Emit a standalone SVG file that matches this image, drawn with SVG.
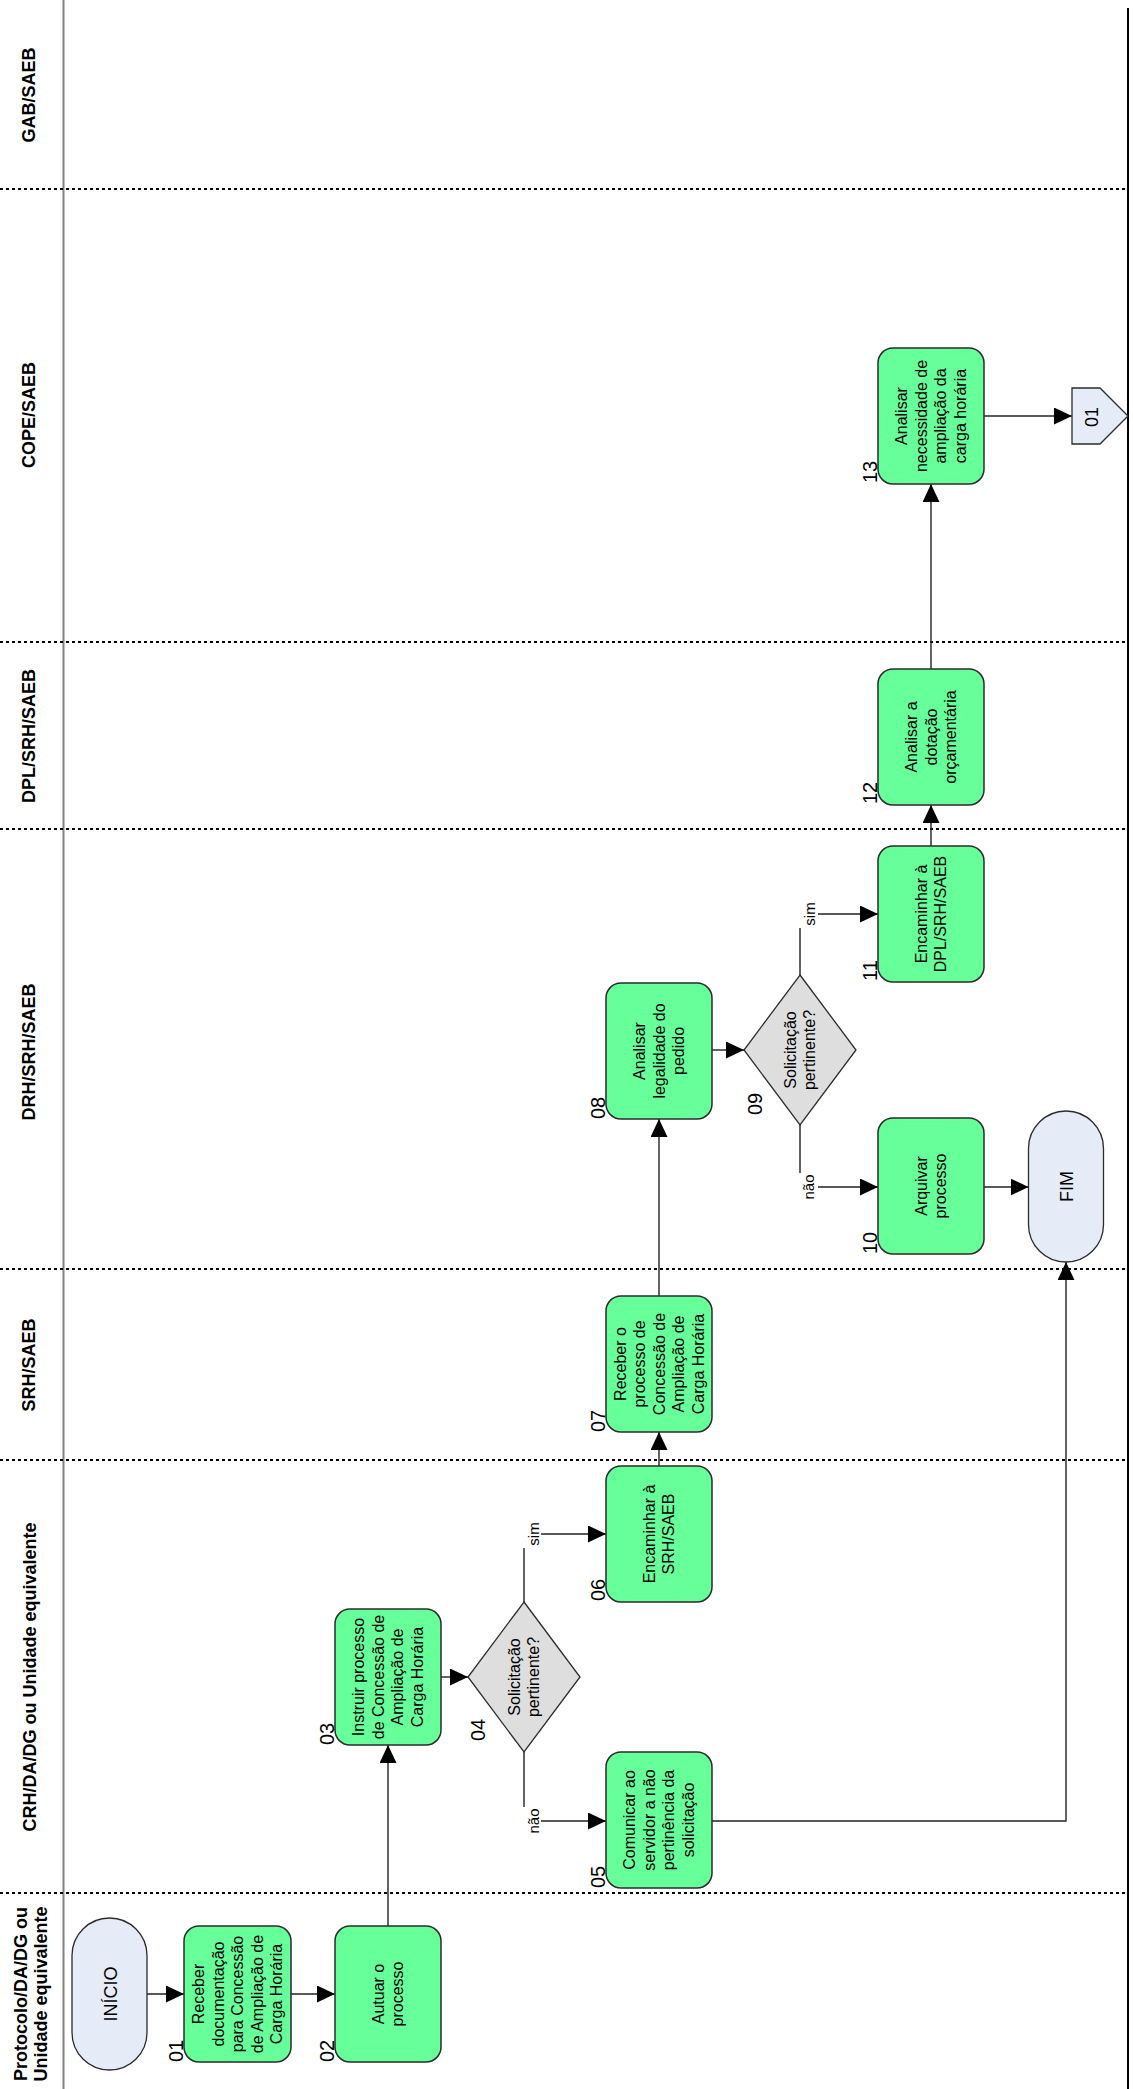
<svg xmlns="http://www.w3.org/2000/svg" width="1133" height="2089" viewBox="0 0 1133 2089">
  <style>
    .lane-sep { stroke: #000; stroke-width: 2; stroke-dasharray: 3 3; fill: none; }
    .task { fill: #66FF99; stroke: #2b2b2b; stroke-width: 1.5; }
    .gate { fill: #DEDEDE; stroke: #2b2b2b; stroke-width: 1.3; }
    .term { fill: #E6ECF7; stroke: #2b2b2b; stroke-width: 1.3; }
    .edge { fill: none; stroke: #222; stroke-width: 1.4; }
    .lbl { font-family: "Liberation Sans", Arial, sans-serif; font-size: 16px; fill: #000; text-anchor: middle; }
    .num { font-family: "Liberation Sans", Arial, sans-serif; font-size: 20px; fill: #000; }
    .lane { font-family: "Liberation Sans", Arial, sans-serif; font-size: 18px; font-weight: bold; fill: #000; text-anchor: middle; }
    .term-txt { font-family: "Liberation Sans", Arial, sans-serif; font-size: 18px; fill: #000; text-anchor: middle; }
    .cond { font-family: "Liberation Sans", Arial, sans-serif; font-size: 15px; fill: #000; text-anchor: middle; }
  </style>
  <defs>
    <marker id="arrow" viewBox="0 0 18 17" refX="18" refY="8.5" markerWidth="18" markerHeight="17" markerUnits="userSpaceOnUse" orient="auto">
      <path d="M0,0 L18,8.5 L0,17 z" fill="#000"/>
    </marker>
  </defs>

  <rect width="1133" height="2089" fill="#fff"/>

  <!-- swimlane frame -->
  <g id="lanes">
    <line x1="63.5" y1="0" x2="63.5" y2="2089" stroke="#808080" stroke-width="2"/>
    <line x1="1128" y1="8" x2="1128" y2="2089" stroke="#000" stroke-width="2"/>
    <line class="lane-sep" x1="0" y1="189" x2="1128" y2="189"/>
    <line class="lane-sep" x1="0" y1="642" x2="1128" y2="642"/>
    <line class="lane-sep" x1="0" y1="829" x2="1128" y2="829"/>
    <line class="lane-sep" x1="0" y1="1269" x2="1128" y2="1269"/>
    <line class="lane-sep" x1="0" y1="1460" x2="1128" y2="1460"/>
    <line class="lane-sep" x1="0" y1="1893" x2="1128" y2="1893"/>
    <text class="lane" transform="translate(35,95) rotate(-90)">GAB/SAEB</text>
    <text class="lane" transform="translate(35,415) rotate(-90)">COPE/SAEB</text>
    <text class="lane" transform="translate(35,736) rotate(-90)">DPL/SRH/SAEB</text>
    <text class="lane" transform="translate(35,1052) rotate(-90)">DRH/SRH/SAEB</text>
    <text class="lane" transform="translate(35,1365) rotate(-90)">SRH/SAEB</text>
    <text class="lane" transform="translate(36,1677) rotate(-90)">CRH/DA/DG ou Unidade equivalente</text>
    <text class="lane" transform="translate(0,1994) rotate(-90)"><tspan x="0" y="27">Protocolo/DA/DG ou</tspan><tspan x="0" y="47">Unidade equivalente</tspan></text>
  </g>

  <!-- connectors -->
  <g id="connectors">
    <path class="edge" d="M147,1994 H184" marker-end="url(#arrow)"/>
    <path class="edge" d="M291,1994 H335" marker-end="url(#arrow)"/>
    <path class="edge" d="M388,1926 V1745" marker-end="url(#arrow)"/>
    <path class="edge" d="M441,1677 H468" marker-end="url(#arrow)"/>
    <path class="edge" d="M524,1602 V1534 H606" marker-end="url(#arrow)"/>
    <path class="edge" d="M524,1752 V1821 H606" marker-end="url(#arrow)"/>
    <path class="edge" d="M659,1466 V1432" marker-end="url(#arrow)"/>
    <path class="edge" d="M659,1296 V1119" marker-end="url(#arrow)"/>
    <path class="edge" d="M712,1050 H744" marker-end="url(#arrow)"/>
    <path class="edge" d="M800,975 V914 H878" marker-end="url(#arrow)"/>
    <path class="edge" d="M800,1125 V1187 H878" marker-end="url(#arrow)"/>
    <path class="edge" d="M984,1187 H1028.5" marker-end="url(#arrow)"/>
    <path class="edge" d="M712,1821 H1066 V1262" marker-end="url(#arrow)"/>
    <path class="edge" d="M931,846 V805" marker-end="url(#arrow)"/>
    <path class="edge" d="M931,669 V484" marker-end="url(#arrow)"/>
    <path class="edge" d="M984,416 H1072" marker-end="url(#arrow)"/>
    <!-- branch labels -->
    <rect x="521" y="1521" width="20" height="27" fill="#fff"/>
    <text class="cond" transform="translate(538.5,1534) rotate(-90)">sim</text>
    <rect x="521" y="1807" width="20" height="28" fill="#fff"/>
    <text class="cond" transform="translate(538.5,1821) rotate(-90)">não</text>
    <rect x="797" y="901" width="21" height="27" fill="#fff"/>
    <text class="cond" transform="translate(814.5,914) rotate(-90)">sim</text>
    <rect x="797" y="1173" width="21" height="28" fill="#fff"/>
    <text class="cond" transform="translate(814,1187) rotate(-90)">não</text>
  </g>

  <!-- start / end -->
  <g id="inicio">
    <rect class="term" x="72" y="1918" width="75" height="152" rx="37.5"/>
    <text class="term-txt" transform="translate(116.5,1994) rotate(-90)">INÍCIO</text>
  </g>
  <g id="fim">
    <rect class="term" x="1028.5" y="1111" width="75" height="151" rx="37.5"/>
    <text class="term-txt" transform="translate(1072.5,1186.5) rotate(-90)">FIM</text>
  </g>

  <!-- activities -->
  <g id="n01">
    <rect class="task" x="184" y="1926" width="107" height="136" rx="15"/>
    <text class="lbl" transform="translate(237.5,1994) rotate(-90)"><tspan x="0" y="-33.4">Receber</tspan><tspan x="0" y="-13.9">documentação</tspan><tspan x="0" y="5.6">para Concessão</tspan><tspan x="0" y="25.1">de Ampliação de</tspan><tspan x="0" y="44.6">Carga Horária</tspan></text>
    <text class="num" transform="translate(183,2062) rotate(-90)">01</text>
  </g>
  <g id="n02">
    <rect class="task" x="335" y="1926" width="106" height="136" rx="15"/>
    <text class="lbl" transform="translate(388,1994) rotate(-90)"><tspan x="0" y="-4.15">Autuar o</tspan><tspan x="0" y="15.35">processo</tspan></text>
    <text class="num" transform="translate(334,2062) rotate(-90)">02</text>
  </g>
  <g id="n03">
    <rect class="task" x="335" y="1609" width="106" height="136" rx="15"/>
    <text class="lbl" transform="translate(388,1677) rotate(-90)"><tspan x="0" y="-23.65">Instruir processo</tspan><tspan x="0" y="-4.15">de Concessão de</tspan><tspan x="0" y="15.35">Ampliação de</tspan><tspan x="0" y="34.85">Carga Horária</tspan></text>
    <text class="num" transform="translate(334,1745) rotate(-90)">03</text>
  </g>
  <g id="n04">
    <polygon class="gate" points="524,1602 580,1677 524,1752 468,1677"/>
    <text class="lbl" transform="translate(524,1677) rotate(-90)"><tspan x="0" y="-4.15">Solicitação</tspan><tspan x="0" y="15.35">pertinente?</tspan></text>
    <text class="num" transform="translate(485,1741) rotate(-90)">04</text>
  </g>
  <g id="n05">
    <rect class="task" x="606" y="1752" width="106" height="136" rx="15"/>
    <text class="lbl" transform="translate(659,1820) rotate(-90)"><tspan x="0" y="-23.65">Comunicar ao</tspan><tspan x="0" y="-4.15">servidor a não</tspan><tspan x="0" y="15.35">pertinência da</tspan><tspan x="0" y="34.85">solicitação</tspan></text>
    <text class="num" transform="translate(605,1888) rotate(-90)">05</text>
  </g>
  <g id="n06">
    <rect class="task" x="606" y="1466" width="106" height="136" rx="15"/>
    <text class="lbl" transform="translate(659,1534) rotate(-90)"><tspan x="0" y="-4.15">Encaminhar à</tspan><tspan x="0" y="15.35">SRH/SAEB</tspan></text>
    <text class="num" transform="translate(605,1601) rotate(-90)">06</text>
  </g>
  <g id="n07">
    <rect class="task" x="606" y="1296" width="106" height="136" rx="15"/>
    <text class="lbl" transform="translate(659,1364) rotate(-90)"><tspan x="0" y="-33.4">Receber o</tspan><tspan x="0" y="-13.9">processo de</tspan><tspan x="0" y="5.6">Concessão de</tspan><tspan x="0" y="25.1">Ampliação de</tspan><tspan x="0" y="44.6">Carga Horária</tspan></text>
    <text class="num" transform="translate(605,1432) rotate(-90)">07</text>
  </g>
  <g id="n08">
    <rect class="task" x="606" y="983" width="106" height="136" rx="15"/>
    <text class="lbl" transform="translate(659,1051) rotate(-90)"><tspan x="0" y="-13.9">Analisar</tspan><tspan x="0" y="5.6">legalidade do</tspan><tspan x="0" y="25.1">pedido</tspan></text>
    <text class="num" transform="translate(605,1119) rotate(-90)">08</text>
  </g>
  <g id="n09">
    <polygon class="gate" points="800,975 856,1050 800,1125 744,1050"/>
    <text class="lbl" transform="translate(800,1050) rotate(-90)"><tspan x="0" y="-4.15">Solicitação</tspan><tspan x="0" y="15.35">pertinente?</tspan></text>
    <text class="num" transform="translate(762,1115) rotate(-90)">09</text>
  </g>
  <g id="n10">
    <rect class="task" x="878" y="1118" width="106" height="136" rx="15"/>
    <text class="lbl" transform="translate(931,1186) rotate(-90)"><tspan x="0" y="-4.15">Arquivar</tspan><tspan x="0" y="15.35">processo</tspan></text>
    <text class="num" transform="translate(877,1254) rotate(-90)">10</text>
  </g>
  <g id="n11">
    <rect class="task" x="878" y="846" width="106" height="136" rx="15"/>
    <text class="lbl" transform="translate(931,914) rotate(-90)"><tspan x="0" y="-4.15">Encaminhar à</tspan><tspan x="0" y="15.35">DPL/SRH/SAEB</tspan></text>
    <text class="num" transform="translate(877,981) rotate(-90)">11</text>
  </g>
  <g id="n12">
    <rect class="task" x="878" y="669" width="106" height="136" rx="15"/>
    <text class="lbl" transform="translate(931,737) rotate(-90)"><tspan x="0" y="-13.9">Analisar a</tspan><tspan x="0" y="5.6">dotação</tspan><tspan x="0" y="25.1">orçamentária</tspan></text>
    <text class="num" transform="translate(877,804) rotate(-90)">12</text>
  </g>
  <g id="n13">
    <rect class="task" x="878" y="348" width="106" height="136" rx="15"/>
    <text class="lbl" transform="translate(931,416) rotate(-90)"><tspan x="0" y="-23.65">Analisar</tspan><tspan x="0" y="-4.15">necessidade de</tspan><tspan x="0" y="15.35">ampliação da</tspan><tspan x="0" y="34.85">carga horária</tspan></text>
    <text class="num" transform="translate(877,483) rotate(-90)">13</text>
  </g>

  <!-- off-page reference -->
  <g id="ref01">
    <polygon class="term" points="1072,388 1100,388 1128,416 1100,444 1072,444"/>
    <text class="term-txt" transform="translate(1098,417) rotate(-90)">01</text>
  </g>
</svg>
